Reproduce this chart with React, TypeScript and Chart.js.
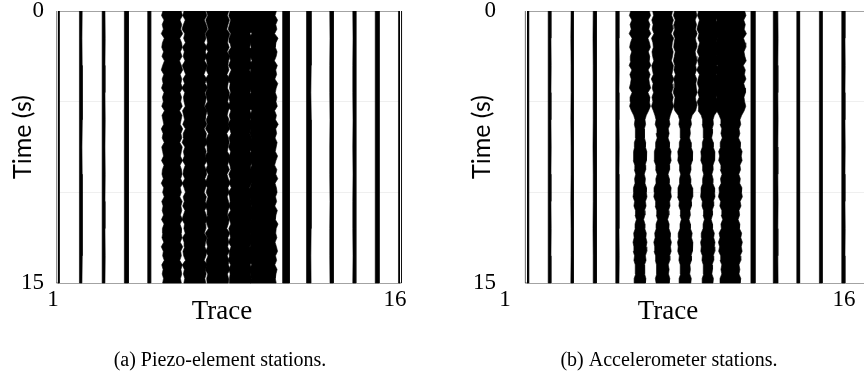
import React, { useEffect, useRef } from "react";
import { Chart, registerables } from "chart.js";

Chart.register(...registerables);

// ---------- axes ----------
const TIME_MAX = 15;
const TIME_GRID = [0, 5, 10, 15];
const TIME_LABELS = [0, 15];
const TRACE_TICKS = [1, 16];

// ---------- (a) Piezo-element stations: half-amplitude envelopes (trace units), evenly sampled 0..15 s ----------
const piezoT01 = [0.05, 0.06, 0.05, 0.05, 0.06, 0.05, 0.05, 0.06, 0.05, 0.05, 0.06];
const piezoT02 = [0.06, 0.05, 0.06, 0.07, 0.06, 0.05, 0.06, 0.06, 0.07, 0.06, 0.05];
const piezoT03 = [0.06, 0.07, 0.06, 0.06, 0.07, 0.06, 0.07, 0.06, 0.06, 0.07, 0.06];
const piezoT04 = [0.09, 0.08, 0.1, 0.09, 0.08, 0.09, 0.1, 0.09, 0.08, 0.09, 0.09];
const piezoT05 = [0.07, 0.06, 0.07, 0.07, 0.06, 0.07, 0.07, 0.06, 0.07, 0.07, 0.06];
const piezoT06 = [0.40, 0.46, 0.35, 0.43, 0.38, 0.47, 0.34, 0.42, 0.45, 0.37, 0.44, 0.33, 0.41, 0.47, 0.36, 0.43, 0.39, 0.46, 0.35, 0.42, 0.38, 0.45, 0.33, 0.44, 0.40, 0.36, 0.47, 0.39, 0.43, 0.34, 0.45, 0.41, 0.37, 0.46, 0.35, 0.42, 0.44, 0.38, 0.47, 0.36, 0.41, 0.34, 0.45, 0.39, 0.43, 0.37, 0.46, 0.35, 0.42, 0.40, 0.44, 0.36, 0.47, 0.38, 0.41, 0.34, 0.45, 0.39, 0.43, 0.37, 0.41];
const piezoT07 = [0.47, 0.53, 0.42, 0.50, 0.56, 0.44, 0.49, 0.41, 0.54, 0.46, 0.51, 0.43, 0.55, 0.48, 0.40, 0.52, 0.45, 0.57, 0.44, 0.50, 0.47, 0.42, 0.54, 0.49, 0.45, 0.53, 0.41, 0.51, 0.48, 0.56, 0.43, 0.50, 0.46, 0.54, 0.42, 0.49, 0.52, 0.44, 0.55, 0.47, 0.41, 0.51, 0.46, 0.53, 0.43, 0.50, 0.56, 0.45, 0.48, 0.42, 0.54, 0.47, 0.44, 0.52, 0.49, 0.41, 0.55, 0.46, 0.50, 0.44, 0.48];
const piezoT08 = [0.49, 0.43, 0.52, 0.46, 0.40, 0.54, 0.47, 0.44, 0.51, 0.42, 0.55, 0.48, 0.45, 0.50, 0.41, 0.53, 0.46, 0.43, 0.52, 0.49, 0.44, 0.56, 0.47, 0.42, 0.50, 0.45, 0.53, 0.40, 0.48, 0.51, 0.46, 0.43, 0.54, 0.49, 0.44, 0.52, 0.41, 0.47, 0.55, 0.45, 0.50, 0.42, 0.48, 0.53, 0.46, 0.43, 0.51, 0.47, 0.40, 0.54, 0.45, 0.49, 0.44, 0.52, 0.42, 0.50, 0.47, 0.55, 0.43, 0.48, 0.46];
const piezoT09 = [0.45, 0.51, 0.43, 0.48, 0.54, 0.42, 0.50, 0.46, 0.41, 0.53, 0.47, 0.44, 0.52, 0.40, 0.49, 0.55, 0.45, 0.48, 0.43, 0.51, 0.46, 0.53, 0.42, 0.49, 0.44, 0.56, 0.47, 0.41, 0.50, 0.45, 0.52, 0.43, 0.48, 0.54, 0.46, 0.42, 0.51, 0.44, 0.49, 0.40, 0.53, 0.47, 0.45, 0.50, 0.43, 0.55, 0.48, 0.42, 0.51, 0.46, 0.44, 0.52, 0.41, 0.49, 0.47, 0.54, 0.43, 0.50, 0.45, 0.48, 0.46];
const piezoT10 = [0.58, 0.52, 0.63, 0.55, 0.60, 0.50, 0.65, 0.56, 0.53, 0.61, 0.57, 0.49, 0.62, 0.55, 0.59, 0.51, 0.64, 0.57, 0.53, 0.60, 0.56, 0.62, 0.50, 0.58, 0.54, 0.66, 0.55, 0.59, 0.52, 0.61, 0.57, 0.53, 0.63, 0.56, 0.50, 0.60, 0.55, 0.64, 0.52, 0.58, 0.61, 0.54, 0.59, 0.51, 0.62, 0.56, 0.53, 0.65, 0.57, 0.55, 0.60, 0.52, 0.58, 0.63, 0.54, 0.59, 0.51, 0.61, 0.56, 0.53, 0.57];
const piezoT11 = [0.15, 0.14, 0.16, 0.15, 0.14, 0.16, 0.15, 0.14, 0.15, 0.16, 0.15];
const piezoT12 = [0.1, 0.11, 0.1, 0.09, 0.11, 0.1, 0.1, 0.11, 0.1, 0.09, 0.1];
const piezoT13 = [0.08, 0.07, 0.08, 0.08, 0.07, 0.08, 0.08, 0.07, 0.08, 0.08, 0.07];
const piezoT14 = [0.07, 0.06, 0.07, 0.07, 0.06, 0.07, 0.06, 0.07, 0.07, 0.06, 0.07];
const piezoT15 = [0.09, 0.08, 0.09, 0.08, 0.09, 0.09, 0.08, 0.09, 0.08, 0.09, 0.09];
const piezoT16 = [0.07, 0.06, 0.07, 0.07, 0.06, 0.07, 0.07, 0.06, 0.07, 0.07, 0.06];

// ---------- (b) Accelerometer stations (strong phase 0-5.5 s, then weaker lens-shaped bursts) ----------
const accelT01 = [0.07, 0.08, 0.07, 0.07, 0.08, 0.07, 0.07, 0.08, 0.07, 0.07, 0.08];
const accelT02 = [0.06, 0.06, 0.07, 0.06, 0.06, 0.07, 0.06, 0.06, 0.07, 0.06, 0.06];
const accelT03 = [0.05, 0.06, 0.05, 0.05, 0.06, 0.05, 0.05, 0.06, 0.05, 0.05, 0.06];
const accelT04 = [0.07, 0.08, 0.07, 0.07, 0.07, 0.08, 0.07, 0.07, 0.08, 0.07, 0.07];
const accelT05 = [0.07, 0.07, 0.08, 0.07, 0.07, 0.08, 0.07, 0.07, 0.07, 0.08, 0.07];
const accelT06 = [0.41, 0.47, 0.36, 0.44, 0.39, 0.48, 0.35, 0.42, 0.46, 0.37, 0.43, 0.40, 0.48, 0.36, 0.45, 0.39, 0.42, 0.47, 0.35, 0.44, 0.41, 0.46, 0.38,
  0.28, 0.22, 0.25, 0.19, 0.22, 0.18, 0.25, 0.24, 0.30, 0.27, 0.30, 0.23, 0.25, 0.19, 0.24, 0.22, 0.29, 0.28, 0.31, 0.24, 0.27, 0.20, 0.22, 0.16, 0.22, 0.21, 0.28, 0.26, 0.31, 0.27, 0.30, 0.24, 0.27, 0.20, 0.22, 0.19, 0.26, 0.24];
const accelT07 = [0.44, 0.40, 0.48, 0.42, 0.46, 0.38, 0.49, 0.43, 0.41, 0.47, 0.44, 0.39, 0.48, 0.45, 0.41, 0.50, 0.42, 0.46, 0.40, 0.47, 0.43, 0.49, 0.41,
  0.34, 0.29, 0.33, 0.25, 0.29, 0.24, 0.31, 0.30, 0.38, 0.35, 0.38, 0.30, 0.31, 0.24, 0.30, 0.29, 0.38, 0.36, 0.39, 0.31, 0.33, 0.26, 0.28, 0.22, 0.29, 0.28, 0.35, 0.33, 0.39, 0.35, 0.38, 0.31, 0.32, 0.25, 0.29, 0.26, 0.32, 0.29];
const accelT08 = [0.47, 0.52, 0.44, 0.50, 0.46, 0.53, 0.45, 0.49, 0.51, 0.44, 0.48, 0.52, 0.46, 0.50, 0.43, 0.51, 0.47, 0.49, 0.53, 0.45, 0.48, 0.51, 0.46,
  0.31, 0.25, 0.28, 0.21, 0.23, 0.19, 0.26, 0.26, 0.33, 0.31, 0.33, 0.25, 0.26, 0.20, 0.25, 0.24, 0.32, 0.32, 0.34, 0.26, 0.28, 0.21, 0.23, 0.17, 0.23, 0.23, 0.31, 0.28, 0.34, 0.31, 0.33, 0.26, 0.28, 0.21, 0.23, 0.20, 0.27, 0.25];
const accelT09 = [0.41, 0.46, 0.37, 0.43, 0.48, 0.39, 0.44, 0.36, 0.42, 0.47, 0.38, 0.45, 0.40, 0.49, 0.37, 0.43, 0.46, 0.39, 0.44, 0.38, 0.47, 0.41, 0.43,
  0.29, 0.23, 0.25, 0.19, 0.21, 0.17, 0.24, 0.24, 0.31, 0.29, 0.31, 0.23, 0.24, 0.18, 0.23, 0.22, 0.30, 0.30, 0.32, 0.24, 0.26, 0.19, 0.21, 0.15, 0.21, 0.21, 0.29, 0.26, 0.32, 0.29, 0.31, 0.24, 0.26, 0.19, 0.21, 0.18, 0.25, 0.23];
const accelT10 = [0.63, 0.69, 0.59, 0.66, 0.61, 0.71, 0.58, 0.65, 0.68, 0.60, 0.64, 0.70, 0.57, 0.66, 0.62, 0.69, 0.59, 0.65, 0.67, 0.60, 0.63, 0.68, 0.61,
  0.50, 0.42, 0.46, 0.38, 0.42, 0.36, 0.45, 0.43, 0.52, 0.48, 0.52, 0.42, 0.45, 0.37, 0.44, 0.41, 0.51, 0.49, 0.53, 0.43, 0.47, 0.38, 0.41, 0.34, 0.42, 0.40, 0.50, 0.46, 0.53, 0.48, 0.52, 0.43, 0.46, 0.38, 0.42, 0.38, 0.46, 0.43];
const accelT11 = [0.09, 0.1, 0.09, 0.09, 0.1, 0.09, 0.1, 0.09, 0.09, 0.1, 0.09];
const accelT12 = [0.1, 0.11, 0.1, 0.1, 0.11, 0.1, 0.1, 0.11, 0.1, 0.1, 0.11];
const accelT13 = [0.06, 0.06, 0.07, 0.06, 0.06, 0.07, 0.06, 0.06, 0.07, 0.06, 0.06];
const accelT14 = [0.06, 0.07, 0.06, 0.06, 0.07, 0.06, 0.06, 0.07, 0.06, 0.06, 0.07];
const accelT15 = [0.07, 0.07, 0.08, 0.07, 0.07, 0.08, 0.07, 0.07, 0.08, 0.07, 0.07];
const accelT16 = [0.06, 0.07, 0.06, 0.06, 0.07, 0.06, 0.06, 0.07, 0.06, 0.06, 0.07];

const piezoEnvelopes = [piezoT01, piezoT02, piezoT03, piezoT04, piezoT05, piezoT06, piezoT07, piezoT08, piezoT09, piezoT10, piezoT11, piezoT12, piezoT13, piezoT14, piezoT15, piezoT16];
const accelEnvelopes = [accelT01, accelT02, accelT03, accelT04, accelT05, accelT06, accelT07, accelT08, accelT09, accelT10, accelT11, accelT12, accelT13, accelT14, accelT15, accelT16];

const SERIF = "'Liberation Serif', 'Times New Roman', serif";
const SANS = "Lato, 'Liberation Sans', sans-serif";

type TextItem = { text: string; x: number; y: number; font: string; rotate?: boolean; baseline?: CanvasTextBaseline };

type PanelSpec = {
  envelopes: number[][];
  canvasWidth: number;
  canvasLeft: number;
  yAxisWidth: number;
  rightPad: number;
  yTickPad: number;
  xLabelOffset: number;
  texts: TextItem[];
};

const CANVAS_H = 380;
const PLOT_TOP = 11;
const PLOT_BOTTOM = 283;

function traceShape(trace: number, env: number[]) {
  const n = env.length;
  const right = env.map((a, k) => ({ x: trace + a, y: (TIME_MAX * k) / (n - 1) }));
  const left = env.map((a, k) => ({ x: trace - a, y: (TIME_MAX * k) / (n - 1) })).reverse();
  return [...right, ...left];
}

const textPlugin = {
  id: "panelTexts",
  afterDraw(chart: any, _args: any, opts: any) {
    const ctx = chart.ctx as CanvasRenderingContext2D;
    const items: TextItem[] = opts.items || [];
    ctx.save();
    ctx.fillStyle = "#000";
    ctx.textAlign = "center";
    for (const it of items) {
      ctx.save();
      ctx.font = it.font;
      ctx.textBaseline = it.baseline || "middle";
      ctx.translate(it.x, it.y);
      if (it.rotate) ctx.rotate(-Math.PI / 2);
      ctx.fillText(it.text, 0, 0);
      ctx.restore();
    }
    ctx.restore();
  },
};

function zeroPadding(s: any) {
  s.paddingTop = 0;
  s.paddingBottom = 0;
  s.paddingLeft = 0;
  s.paddingRight = 0;
}

function Panel({ spec }: { spec: PanelSpec }) {
  const ref = useRef<HTMLCanvasElement | null>(null);
  useEffect(() => {
    if (!ref.current) return;
    const datasets = spec.envelopes.map((env, i) => ({
      data: traceShape(i + 1, env),
      showLine: true,
      fill: "shape",
      borderColor: "#000",
      backgroundColor: "#000",
      borderWidth: 0.6,
      pointRadius: 0,
      pointHoverRadius: 0,
      tension: 0,
      clip: false,
    }));
    const chart = new Chart(ref.current, {
      type: "scatter",
      data: { datasets: datasets as any },
      options: {
        animation: false,
        responsive: false,
        maintainAspectRatio: false,
        events: [],
        layout: {
          autoPadding: false,
          padding: { left: 0, right: spec.rightPad, top: PLOT_TOP, bottom: 0 },
        } as any,
        plugins: {
          legend: { display: false },
          tooltip: { enabled: false },
          panelTexts: { items: spec.texts },
        } as any,
        scales: {
          x: {
            type: "linear",
            min: 1,
            max: 16,
            afterBuildTicks: (s: any) => {
              s.ticks = TRACE_TICKS.map((v) => ({ value: v }));
            },
            afterFit: (s: any) => {
              s.height = CANVAS_H - PLOT_BOTTOM;
              zeroPadding(s);
            },
            grid: { display: false, drawTicks: false },
            border: { display: false },
            ticks: {
              autoSkip: false,
              maxRotation: 0,
              padding: 5,
              labelOffset: spec.xLabelOffset,
              color: "#000",
              font: { family: SERIF, size: 23, lineHeight: 1 },
              callback: (v: any) => String(v),
            },
          },
          y: {
            type: "linear",
            reverse: true,
            min: 0,
            max: TIME_MAX,
            afterBuildTicks: (s: any) => {
              s.ticks = TIME_GRID.map((v) => ({ value: v }));
            },
            afterFit: (s: any) => {
              s.width = spec.yAxisWidth;
              zeroPadding(s);
            },
            grid: {
              drawTicks: false,
              lineWidth: 1,
              color: (c: any) => {
                const v = c.tick ? c.tick.value : 0;
                return v === 0 || v === TIME_MAX ? "#a3a3a3" : "#efefef";
              },
            },
            border: { display: false },
            ticks: {
              padding: spec.yTickPad,
              color: "#000",
              font: { family: SERIF, size: 23, lineHeight: 1 },
              callback: (v: any) => (TIME_LABELS.includes(Number(v)) ? String(v) : ""),
            },
          },
        },
      } as any,
      plugins: [textPlugin],
    });
    return () => chart.destroy();
  }, [spec]);
  return (
    <canvas
      ref={ref}
      width={spec.canvasWidth}
      height={CANVAS_H}
      style={{ position: "absolute", left: spec.canvasLeft, top: 0, width: spec.canvasWidth, height: CANVAS_H }}
    />
  );
}

const leftSpec: PanelSpec = {
  envelopes: piezoEnvelopes,
  canvasWidth: 432,
  canvasLeft: 0,
  yAxisWidth: 58,
  rightPad: 32,
  yTickPad: 14,
  xLabelOffset: -5,
  texts: [
    { text: "Time (s)", x: 23, y: 137, font: `25px ${SANS}`, rotate: true },
    { text: "Trace", x: 222, y: 319, font: `27px ${SERIF}`, baseline: "alphabetic" },
    { text: "(a) Piezo-element stations.", x: 220, y: 366, font: `20px ${SERIF}`, baseline: "alphabetic" },
  ],
};

const rightSpec: PanelSpec = {
  envelopes: accelEnvelopes,
  canvasWidth: 440,
  canvasLeft: 432,
  yAxisWidth: 95,
  rightPad: 6,
  yTickPad: 31,
  xLabelOffset: -22,
  texts: [
    { text: "Time (s)", x: 50, y: 137, font: `25px ${SANS}`, rotate: true },
    { text: "Trace", x: 236, y: 319, font: `27px ${SERIF}`, baseline: "alphabetic" },
    { text: "(b) Accelerometer stations.", x: 237, y: 366, font: `20px ${SERIF}`, baseline: "alphabetic" },
  ],
};

export default function App() {
  return (
    <div
      style={{
        position: "fixed",
        left: 0,
        top: 0,
        width: 864,
        height: 380,
        overflow: "hidden",
        background: "#fff",
      }}
    >
      <Panel spec={leftSpec} />
      <Panel spec={rightSpec} />
    </div>
  );
}
